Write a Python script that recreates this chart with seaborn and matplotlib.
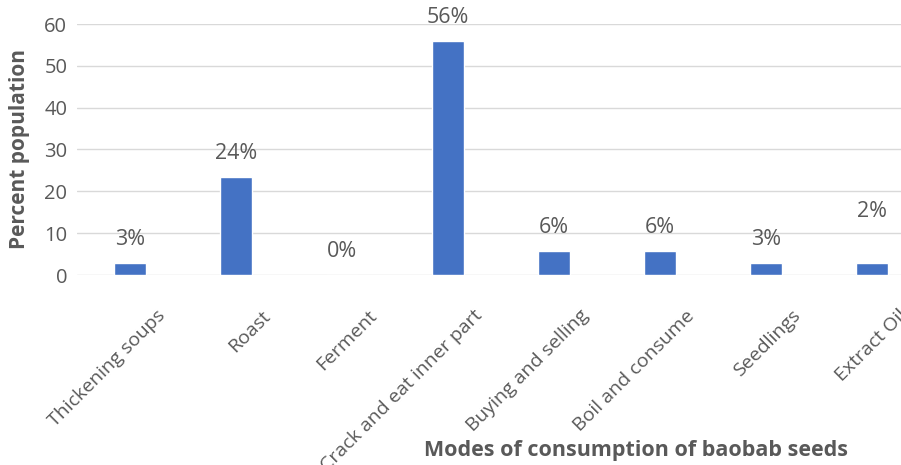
import matplotlib
matplotlib.use("Agg")
import matplotlib.pyplot as plt
import matplotlib.transforms as mtransforms
import seaborn as sns
import pandas as pd

# Survey results: how respondents use baobab seeds
modes = ["Thickening soups", "Roast", "Ferment", "Crack and eat inner part",
         "Buying and selling", "Boil and consume", "Seedlings", "Extract Oil"]
percent = [2.8, 23.5, 0.0, 56.0, 5.8, 5.8, 2.8, 2.8]
value_labels = ["3%", "24%", "0%", "56%", "6%", "6%", "3%", "2%"]

sns.set_theme(style="white")
plt.rcParams["font.family"] = ["Open Sans", "DejaVu Sans"]

TEXT = "#595959"
BAR = "#4472C4"
GRID = "#D9D9D9"

df = pd.DataFrame({"mode": modes, "percent": percent})

fig = plt.figure(figsize=(9.01, 4.65), dpi=100)
# the plot area runs past the right edge of the figure
ax = fig.add_axes([77 / 901, 1 - 275 / 465, 848 / 901, (275 - 24) / 465])

sns.barplot(data=df, x="mode", y="percent", color=BAR, width=0.3,
            saturation=1, ax=ax, zorder=3)

ax.set_ylim(0, 60)
ax.set_yticks(range(0, 61, 10))
ax.set_xlim(-0.5, len(modes) - 0.5)
ax.yaxis.grid(True, color=GRID, linewidth=1.0, zorder=0)
ax.set_axisbelow(True)
for s in ax.spines.values():
    s.set_visible(False)

ax.tick_params(axis="y", length=0, pad=7, labelsize=14.5, labelcolor=TEXT)
ax.tick_params(axis="x", length=0, pad=0, labelsize=14, labelcolor=TEXT)

# rotated category labels, anchored at their right end
offset = mtransforms.ScaledTranslation(32 / 100, -38 / 100, fig.dpi_scale_trans)
for lbl in ax.get_xticklabels():
    lbl.set_rotation(45)
    lbl.set_ha("right")
    lbl.set_va("center")
    lbl.set_rotation_mode("anchor")
    lbl.set_transform(lbl.get_transform() + offset)

# value labels above the bars
extra = [0, 0, 0, 0, 0, 0, 0, 20]
for i, (v, t) in enumerate(zip(percent, value_labels)):
    ax.annotate(t, (i, v), xytext=(0, 17 + extra[i]), textcoords="offset points",
                ha="center", va="center", fontsize=15.5, color=TEXT)

ax.set_ylabel("")
ax.set_xlabel("")
fig.text(20 / 901, 1 - 149 / 465, "Percent population", rotation=90,
         ha="center", va="center", fontsize=15, fontweight="bold", color=TEXT)
fig.text(636 / 901, 1 - 450 / 465, "Modes of consumption of baobab seeds",
         ha="center", va="center", fontsize=15.5, fontweight="bold", color=TEXT)

fig.savefig("out.png", dpi=100)
